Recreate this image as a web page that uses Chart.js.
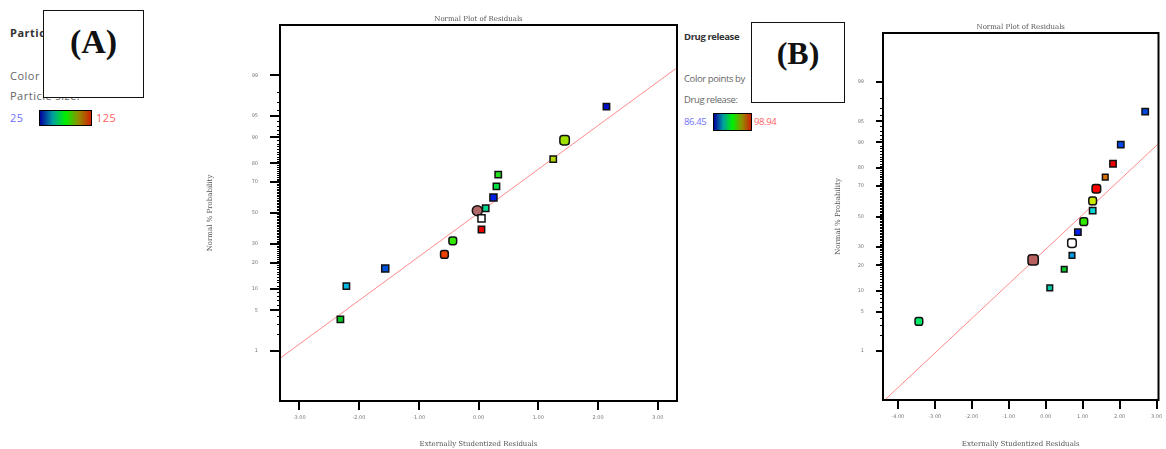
<!DOCTYPE html>
<html>
<head>
<meta charset="utf-8">
<script src="https://cdn.jsdelivr.net/npm/chart.js@4.4.0/dist/chart.umd.min.js"></script>
<style>
  body { margin: 0; width: 1166px; height: 449px; background: #fff; position: relative; overflow: hidden; font-family: 'Open Sans', sans-serif; }
  .abs { position: absolute; white-space: nowrap; line-height: 12px; }
  .cv { position: absolute; top: 0; }
  .lblA { font-size: 11px; color: #666; letter-spacing: 0.5px; }
  .lblB { font-size: 9.5px; color: #666; letter-spacing: -0.4px; }
  .bar { position: absolute; border: 1px solid #000; box-sizing: border-box;
         background: linear-gradient(to right, #0000a0, #00a0a0 25%, #00f000 50%, #909000 75%, #d02000); }
  .tag { position: absolute; background: #fff; border: 1.5px solid #111; box-sizing: border-box;
         font-family: 'Liberation Serif', serif; font-weight: bold; color: #111; text-align: center; }
</style>
</head>
<body>
<!-- legend A -->
<div class="abs lblA" style="left:10px;top:27px;font-weight:bold;color:#333">Particle size</div>
<div class="abs lblA" style="left:10px;top:70px">Color points by value of</div>
<div class="abs lblA" style="left:10px;top:90px">Particle size:</div>
<div class="abs lblA" style="left:10px;top:112px;color:#7070ff">25</div>
<div class="bar" style="left:39px;top:110px;width:53px;height:16px"></div>
<div class="abs lblA" style="left:96px;top:112px;color:#ff6060">125</div>
<div class="tag" style="left:43px;top:10px;width:101px;height:88px;font-size:34px;line-height:62px">(A)</div>

<!-- legend B -->
<div class="abs lblB" style="left:684px;top:31px;font-weight:bold;color:#333">Drug release</div>
<div class="abs lblB" style="left:684px;top:73px">Color points by</div>
<div class="abs lblB" style="left:684px;top:94px">Drug release:</div>
<div class="abs lblB" style="left:684px;top:116px;color:#7070ff">86.45</div>
<div class="bar" style="left:713px;top:113px;width:39px;height:18px"></div>
<div class="abs lblB" style="left:754px;top:116px;color:#ff6060">98.94</div>
<div class="tag" style="left:751px;top:22px;width:94px;height:81px;font-size:32px;line-height:60px">(B)</div>

<canvas id="chartA" class="cv" style="left:190px" width="500" height="449"></canvas>
<canvas id="chartB" class="cv" style="left:800px" width="366" height="449"></canvas>

<script>
// normal % probability ticks
const probTicks = [1, 5, 10, 20, 30, 50, 70, 80, 90, 95, 99];

// panel A — particle size
const residA = [2.14, 1.44, 1.25, 0.33, 0.30, 0.25, 0.12, -0.02, 0.05, 0.05, -0.43, -0.57, -1.56, -2.21, -2.31];
const probA  = [96.4, 89.1, 81.9, 74.2, 67.4, 60.3, 53.2, 51.6, 46.4, 39.0, 31.9, 24.2, 17.4, 10.8, 3.6];
const lineResidA = [-3.32, 3.32];
const lineProbA  = [0.7, 99.3];
const xTicksA = [-3, -2, -1, 0, 1, 2, 3];

// panel B — drug release
const residB = [2.69, 2.03, 1.82, 1.61, 1.37, 1.27, 1.27, 1.03, 0.87, 0.71, 0.71, -0.34, 0.50, 0.11, -3.43];
const probB  = [96.5, 89.3, 81.9, 75.2, 68.4, 60.6, 54.0, 46.4, 39.4, 32.3, 25.1, 22.7, 18.1, 10.9, 3.5];
const lineResidB = [-4.4, 3.05];
const lineProbB  = [0.069, 89.6];
const xTicksB = [-4, -3, -2, -1, 0, 1, 2, 3];

// point styles
const colorsA = ['#0010c8', '#a0e000', '#b0d800', '#20e020', '#00e040', '#0020e8', '#00d890', '#b06868',
                 '#ffffff', '#e80000', '#30e800', '#f04000', '#0050d8', '#00b8e0', '#00c820'];
const stylesA = ['rect', 'rectRounded', 'rect', 'rect', 'rect', 'rect', 'rect', 'circle',
                 'rect', 'rect', 'rectRounded', 'rectRounded', 'rect', 'rect', 'rect'];
const radiusA = [4.5, 5.5, 4.5, 4.5, 4.5, 5, 4.5, 5, 5, 4.5, 4.5, 4.5, 5, 4.5, 4.5];

const colorsB = ['#0048e0', '#0048f0', '#ee0000', '#d87000', '#ff0000', '#c8e800', '#00d8d8', '#30e800',
                 '#0020f0', '#ffffff', '#0098e0', '#b86060', '#00c828', '#00c8a8', '#00e868'];
const stylesB = ['rect', 'rect', 'rect', 'rect', 'rectRounded', 'rectRounded', 'rect', 'rectRounded',
                 'rect', 'rectRounded', 'rect', 'rectRounded', 'rect', 'rect', 'rectRounded'];
const radiusB = [4.5, 4.5, 4.5, 4, 5, 4.5, 4.5, 4.5, 4.5, 5, 4, 6, 4, 4, 4.5];

// inverse normal CDF (Acklam) to put % probability on a normal scale
function probit(pct) {
  const p = pct / 100;
  const a = [-39.69683028665376, 220.9460984245205, -275.9285104469687, 138.3577518672690, -30.66479806614716, 2.506628277459239];
  const b = [-54.47609879822406, 161.5858368580409, -155.6989798598866, 66.80131188771972, -13.28068155288572];
  const c = [-0.007784894002430293, -0.3223964580411365, -2.400758277161838, -2.549732539343734, 4.374664141464968, 2.938163982698783];
  const d = [0.007784695709041462, 0.3224671290700398, 2.445134137142996, 3.754408661907416];
  const lo = 0.02425;
  let q, r;
  if (p < lo) {
    q = Math.sqrt(-2 * Math.log(p));
    return (((((c[0]*q+c[1])*q+c[2])*q+c[3])*q+c[4])*q+c[5]) / ((((d[0]*q+d[1])*q+d[2])*q+d[3])*q+1);
  }
  if (p > 1 - lo) {
    q = Math.sqrt(-2 * Math.log(1 - p));
    return -(((((c[0]*q+c[1])*q+c[2])*q+c[3])*q+c[4])*q+c[5]) / ((((d[0]*q+d[1])*q+d[2])*q+d[3])*q+1);
  }
  q = p - 0.5; r = q * q;
  return (((((a[0]*r+a[1])*r+a[2])*r+a[3])*r+a[4])*r+a[5])*q / (((((b[0]*r+b[1])*r+b[2])*r+b[3])*r+b[4])*r+1);
}

// frame, major ticks and minor probability ticks
const framePlugin = {
  id: 'frame',
  afterDraw(chart) {
    const { ctx, chartArea: ca } = chart;
    const xs = chart.scales.x;
    const ys = chart.scales.y;
    const yLen = chart.options.plugins.frame.yLen;
    ctx.save();
    ctx.setLineDash([]);
    ctx.globalAlpha = 1;
    ctx.strokeStyle = '#000000';
    ctx.lineWidth = 1;
    ctx.beginPath();
    for (let p = 1; p <= 99; p++) {
      const py = Math.round(ys.getPixelForValue(probit(p))) + 0.5;
      ctx.moveTo(ca.left, py);
      ctx.lineTo(ca.left - 3, py);
    }
    ctx.stroke();
    ctx.lineWidth = 2;
    ctx.beginPath();
    probTicks.forEach(p => {
      const py = Math.round(ys.getPixelForValue(probit(p)));
      ctx.moveTo(ca.left, py);
      ctx.lineTo(ca.left - yLen, py);
    });
    chart.options.plugins.frame.xTicks.forEach(v => {
      const px = Math.round(xs.getPixelForValue(v));
      ctx.moveTo(px, ca.bottom);
      ctx.lineTo(px, ca.bottom + 9);
    });
    ctx.stroke();
    ctx.strokeRect(ca.left, ca.top, ca.right - ca.left, ca.bottom - ca.top);
    ctx.font = '7px "DejaVu Serif"';
    ctx.fillStyle = '#555';
    ctx.textAlign = 'center';
    ctx.textBaseline = 'middle';
    ctx.fillText('Normal Plot of Residuals', (ca.left + ca.right) / 2, ca.top - 6);
    ctx.restore();
  }
};

function makeChart(id, o) {
  const pts = o.resid.map((r, i) => ({ x: r, y: probit(o.prob[i]) }));
  const fit = o.lineResid.map((r, i) => ({ x: r, y: probit(o.lineProb[i]) }));
  const tickFont = { family: 'DejaVu Sans', size: 5 };
  const titleFont = { family: 'DejaVu Serif', size: 7 };
  return new Chart(document.getElementById(id), {
    type: 'scatter',
    data: {
      datasets: [
        {
          data: pts,
          pointStyle: o.styles,
          pointRadius: o.radius,
          pointBackgroundColor: o.colors,
          pointBorderColor: '#111',
          pointBorderWidth: 1.5
        },
        {
          type: 'line',
          data: fit,
          borderColor: '#ff8a8a',
          borderWidth: 1,
          pointRadius: 0
        }
      ]
    },
    options: {
      responsive: false, animation: false,
      layout: { padding: { top: o.padTop, right: o.padRight, left: 0, bottom: 0 } },
      plugins: {
        legend: { display: false }, tooltip: { enabled: false },
        title: { display: false },
        frame: { yLen: o.tickLenY, xTicks: o.xTicks }
      },
      scales: {
        x: {
          type: 'linear', min: o.xMin, max: o.xMax,
          afterBuildTicks: s => { s.ticks = o.xTicks.map(v => ({ value: v })); },
          afterFit: s => { s.height = o.xAxisH; s.paddingLeft = 0; s.paddingRight = 0; },
          grid: { display: false },
          border: { display: false },
          ticks: { font: tickFont, color: '#777', padding: 6, maxRotation: 0, callback: v => v.toFixed(2) },
          title: { display: true, text: 'Externally Studentized Residuals', font: titleFont, color: '#555', padding: { top: 0, bottom: 1 } }
        },
        y: {
          type: 'linear', min: -o.zMax, max: o.zMax,
          afterBuildTicks: s => { s.ticks = probTicks.map(p => ({ value: probit(p) })); },
          afterFit: s => { s.width = o.yAxisW; s.paddingTop = 0; s.paddingBottom = 0; },
          grid: { display: false },
          border: { display: false },
          ticks: { font: tickFont, color: '#777', padding: o.tickLenY + 4, callback: (v, i) => String(probTicks[i]) },
          title: { display: true, text: 'Normal % Probability', font: titleFont, color: '#555', padding: { top: o.yTitlePad, bottom: 0 } }
        }
      }
    },
    plugins: [framePlugin]
  });
}

makeChart('chartA', {
  resid: residA, prob: probA, lineResid: lineResidA, lineProb: lineProbA,
  colors: colorsA, styles: stylesA, radius: radiusA, xTicks: xTicksA,
  xMin: -3.32, xMax: 3.32, zMax: 3.18,
  padTop: 25, padRight: 13, xAxisH: 48, yAxisW: 90, tickLenY: 10, yTitlePad: 16
});

makeChart('chartB', {
  resid: residB, prob: probB, lineResid: lineResidB, lineProb: lineProbB,
  colors: colorsB, styles: stylesB, radius: radiusB, xTicks: xTicksB,
  xMin: -4.4, xMax: 3.05, zMax: 3.17,
  padTop: 33, padRight: 1, xAxisH: 49, yAxisW: 83, tickLenY: 7, yTitlePad: 34
});
</script>
</body>
</html>
